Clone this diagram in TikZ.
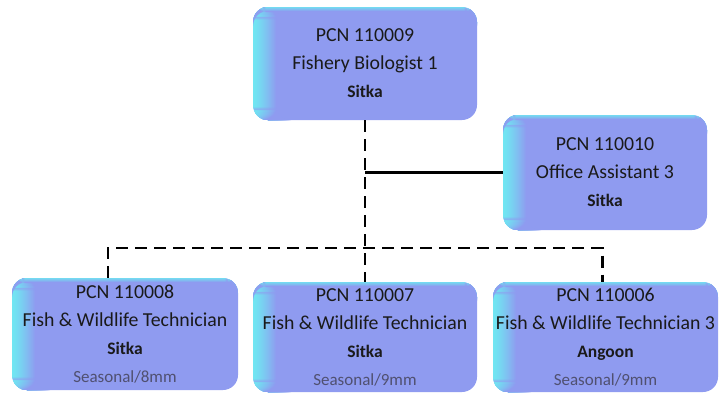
\documentclass[tikz,border=0pt]{standalone}
\usepackage{fontspec}
\setmainfont{Carlito}
\definecolor{cardfill}{HTML}{8F9BF0}
\definecolor{cardedge}{HTML}{70E6F2}
\definecolor{txt}{HTML}{1A1A1A}
\definecolor{subtxt}{HTML}{505070}
\tikzset{
  card/.style={rounded corners=15pt, fill=cardfill, inner sep=0pt, align=center, text=txt,
    font=\fontsize{19.8}{28}\selectfont,
    path picture={
      \foreach \i in {0,...,23}{
        \pgfmathsetmacro{\p}{100*(\i/23)^1.3}
        \fill[cardfill!\p!cardedge]
          ([xshift=\i*1pt]path picture bounding box.south west) rectangle
          ([xshift=\i*1pt+1.3pt]path picture bounding box.north west);
      }
      \foreach \j in {0,...,4}{
        \pgfmathsetmacro{\q}{100*(\j/4)}
        \fill[cardfill!\q!cardedge, opacity=0.85]
          ([yshift=-\j*1pt]path picture bounding box.north west) rectangle
          ([yshift=-\j*1pt-1.2pt]path picture bounding box.north east);
      }
    }},
  dashline/.style={line width=2.6pt, dash pattern=on 12pt off 7pt},
  solidline/.style={line width=2.4pt},
}
\newcommand{\loc}[1]{{\fontsize{17.5}{28}\selectfont\bfseries #1}}
\newcommand{\sub}[1]{{\fontsize{17}{28}\selectfont\color{subtxt}#1}}
\begin{document}
\begin{tikzpicture}[x=1pt,y=-1pt]
\useasboundingbox (0,0) rectangle (725,394);
\node[card, minimum width=224pt, minimum height=113pt] (top) at (365,63.5)
  {PCN 110009\\Fishery Biologist 1\\\loc{Sitka}};
\node[card, minimum width=204pt, minimum height=115pt] (oa) at (605,172.5)
  {PCN 110010\\Office Assistant 3\\\loc{Sitka}};
\node[card, minimum width=226pt, minimum height=112pt] (left) at (125,334)
  {PCN 110008\\Fish \& Wildlife Technician\\\loc{Sitka}\\\sub{Seasonal/8mm}};
\node[card, minimum width=224pt, minimum height=110pt] (mid) at (365,337)
  {PCN 110007\\Fish \& Wildlife Technician\\\loc{Sitka}\\\sub{Seasonal/9mm}};
\node[card, minimum width=225pt, minimum height=110pt] (right) at (605.5,337)
  {PCN 110006\\Fish \& Wildlife Technician 3\\\loc{Angoon}\\\sub{Seasonal/9mm}};
\coordinate (bus) at (365,248);
\coordinate (lft) at ([xshift=-17pt]left.north);
\coordinate (rgt) at ([xshift=-3pt]right.north);
\draw[dashline] (top.south) -- (mid.north);
\draw[dashline] (lft) -- (lft |- bus) -- (rgt |- bus) -- (rgt);
\draw[solidline] (top.south |- oa.west) -- (oa.west);
\end{tikzpicture}
\end{document}
